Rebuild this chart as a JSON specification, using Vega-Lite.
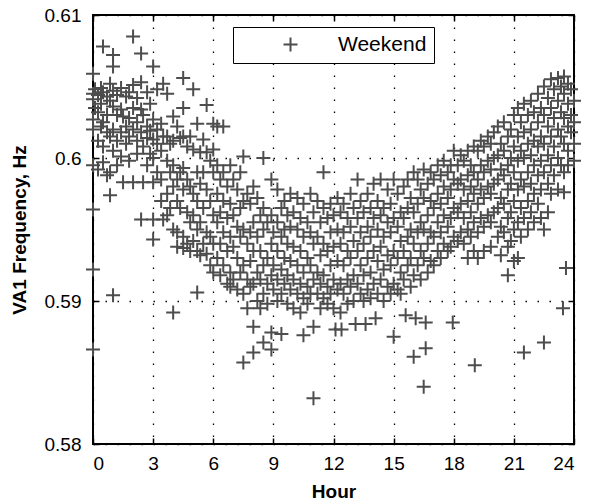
{
"$schema":"https://vega.github.io/schema/vega-lite/v6.json",
"autosize":{"type":"none"},
"padding":{"left":93,"top":15,"right":15,"bottom":60},
"width":481,"height":429,
"config":{"view":{"stroke":"black","strokeWidth":2},"font":"Liberation Sans",
"axis":{"domain":false,"grid":true,"gridColor":"black","gridDash":[1.5,10.5],"gridWidth":1.3,"gridOpacity":1,"tickColor":"black","tickSize":-6,"tickWidth":1.5,"labelFont":"Liberation Sans","labelFontSize":19,"labelColor":"black","titleFont":"Liberation Sans","titleFontSize":19,"titleFontWeight":"bold","titleColor":"black"}},
"data":{"values":[
{"Hour":0,"Freq":0.6059},{"Hour":0,"Freq":0.6045},{"Hour":0,"Freq":0.6041},{"Hour":0,"Freq":0.6027},{"Hour":0,"Freq":0.602},{"Hour":0,"Freq":0.5995},{"Hour":0,"Freq":0.5964},{"Hour":0,"Freq":0.5922},{"Hour":0,"Freq":0.5866},
{"Hour":0.1,"Freq":0.6048},{"Hour":0.1,"Freq":0.6035},
{"Hour":0.25,"Freq":0.6044},{"Hour":0.25,"Freq":0.6032},{"Hour":0.25,"Freq":0.6012},{"Hour":0.25,"Freq":0.5992},
{"Hour":0.4,"Freq":0.6049},{"Hour":0.4,"Freq":0.6038},{"Hour":0.4,"Freq":0.6022},
{"Hour":0.5,"Freq":0.6078},{"Hour":0.5,"Freq":0.6046},{"Hour":0.5,"Freq":0.6025},{"Hour":0.5,"Freq":0.6008},{"Hour":0.5,"Freq":0.5997},
{"Hour":0.7,"Freq":0.6043},{"Hour":0.7,"Freq":0.603},{"Hour":0.7,"Freq":0.6018},{"Hour":0.7,"Freq":0.5988},
{"Hour":0.85,"Freq":0.6052},{"Hour":0.85,"Freq":0.604},{"Hour":0.85,"Freq":0.6015},{"Hour":0.85,"Freq":0.599},{"Hour":0.85,"Freq":0.5974},
{"Hour":1,"Freq":0.6072},{"Hour":1,"Freq":0.6064},{"Hour":1,"Freq":0.6047},{"Hour":1,"Freq":0.6036},{"Hour":1,"Freq":0.602},{"Hour":1,"Freq":0.6005},{"Hour":1,"Freq":0.5904},
{"Hour":1.2,"Freq":0.6044},{"Hour":1.2,"Freq":0.603},{"Hour":1.2,"Freq":0.6012},{"Hour":1.2,"Freq":0.5995},
{"Hour":1.4,"Freq":0.6049},{"Hour":1.4,"Freq":0.6034},{"Hour":1.4,"Freq":0.6018},{"Hour":1.4,"Freq":0.6001},
{"Hour":1.5,"Freq":0.6029},{"Hour":1.5,"Freq":0.5983},
{"Hour":1.65,"Freq":0.6043},{"Hour":1.65,"Freq":0.6022},{"Hour":1.65,"Freq":0.601},
{"Hour":1.8,"Freq":0.6046},{"Hour":1.8,"Freq":0.6028},{"Hour":1.8,"Freq":0.6015},{"Hour":1.8,"Freq":0.5998},
{"Hour":2,"Freq":0.6085},{"Hour":2,"Freq":0.6051},{"Hour":2,"Freq":0.6035},{"Hour":2,"Freq":0.602},{"Hour":2,"Freq":0.5983},
{"Hour":2.2,"Freq":0.6042},{"Hour":2.2,"Freq":0.6025},{"Hour":2.2,"Freq":0.6012},{"Hour":2.2,"Freq":0.6003},
{"Hour":2.4,"Freq":0.6073},{"Hour":2.4,"Freq":0.6053},{"Hour":2.4,"Freq":0.6034},{"Hour":2.4,"Freq":0.6018},{"Hour":2.4,"Freq":0.5957},
{"Hour":2.5,"Freq":0.603},{"Hour":2.5,"Freq":0.6008},{"Hour":2.5,"Freq":0.5983},
{"Hour":2.7,"Freq":0.6046},{"Hour":2.7,"Freq":0.6022},{"Hour":2.7,"Freq":0.6014},{"Hour":2.7,"Freq":0.5995},
{"Hour":2.85,"Freq":0.6038},{"Hour":2.85,"Freq":0.6019},{"Hour":2.85,"Freq":0.6003},
{"Hour":3,"Freq":0.6064},{"Hour":3,"Freq":0.6027},{"Hour":3,"Freq":0.6013},{"Hour":3,"Freq":0.6},{"Hour":3,"Freq":0.5983},{"Hour":3,"Freq":0.5957},{"Hour":3,"Freq":0.5943},
{"Hour":3.2,"Freq":0.6048},{"Hour":3.2,"Freq":0.602},{"Hour":3.2,"Freq":0.601},{"Hour":3.2,"Freq":0.599},
{"Hour":3.4,"Freq":0.6024},{"Hour":3.4,"Freq":0.6005},{"Hour":3.4,"Freq":0.5985},{"Hour":3.4,"Freq":0.597},
{"Hour":3.5,"Freq":0.6052},{"Hour":3.5,"Freq":0.6015},{"Hour":3.5,"Freq":0.5957},
{"Hour":3.7,"Freq":0.6045},{"Hour":3.7,"Freq":0.6015},{"Hour":3.7,"Freq":0.5998},{"Hour":3.7,"Freq":0.5975},{"Hour":3.7,"Freq":0.596},
{"Hour":3.85,"Freq":0.601},{"Hour":3.85,"Freq":0.599},{"Hour":3.85,"Freq":0.5965},
{"Hour":4,"Freq":0.6029},{"Hour":4,"Freq":0.6012},{"Hour":4,"Freq":0.5995},{"Hour":4,"Freq":0.598},{"Hour":4,"Freq":0.595},{"Hour":4,"Freq":0.5892},
{"Hour":4.2,"Freq":0.6022},{"Hour":4.2,"Freq":0.5985},{"Hour":4.2,"Freq":0.597},{"Hour":4.2,"Freq":0.5948},{"Hour":4.2,"Freq":0.5938},
{"Hour":4.35,"Freq":0.6014},{"Hour":4.35,"Freq":0.599},{"Hour":4.35,"Freq":0.5965},
{"Hour":4.5,"Freq":0.6056},{"Hour":4.5,"Freq":0.6035},{"Hour":4.5,"Freq":0.6015},{"Hour":4.5,"Freq":0.5993},{"Hour":4.5,"Freq":0.5978},{"Hour":4.5,"Freq":0.5945},{"Hour":4.5,"Freq":0.5937},
{"Hour":4.7,"Freq":0.6008},{"Hour":4.7,"Freq":0.5985},{"Hour":4.7,"Freq":0.5962},{"Hour":4.7,"Freq":0.594},
{"Hour":4.85,"Freq":0.6015},{"Hour":4.85,"Freq":0.598},{"Hour":4.85,"Freq":0.5955},{"Hour":4.85,"Freq":0.5935},
{"Hour":5,"Freq":0.6048},{"Hour":5,"Freq":0.6006},{"Hour":5,"Freq":0.5975},{"Hour":5,"Freq":0.596},{"Hour":5,"Freq":0.5942},
{"Hour":5.2,"Freq":0.6024},{"Hour":5.2,"Freq":0.599},{"Hour":5.2,"Freq":0.597},{"Hour":5.2,"Freq":0.595},{"Hour":5.2,"Freq":0.5935},{"Hour":5.2,"Freq":0.5906},
{"Hour":5.35,"Freq":0.6004},{"Hour":5.35,"Freq":0.5982},{"Hour":5.35,"Freq":0.5955},{"Hour":5.35,"Freq":0.5932},
{"Hour":5.5,"Freq":0.6013},{"Hour":5.5,"Freq":0.599},{"Hour":5.5,"Freq":0.5965},{"Hour":5.5,"Freq":0.594},
{"Hour":5.67,"Freq":0.6037},{"Hour":5.67,"Freq":0.6004},{"Hour":5.67,"Freq":0.5978},{"Hour":5.67,"Freq":0.5948},{"Hour":5.67,"Freq":0.5933},
{"Hour":5.85,"Freq":0.5998},{"Hour":5.85,"Freq":0.597},{"Hour":5.85,"Freq":0.5945},{"Hour":5.85,"Freq":0.5925},
{"Hour":6,"Freq":0.6024},{"Hour":6,"Freq":0.6006},{"Hour":6,"Freq":0.599},{"Hour":6,"Freq":0.596},{"Hour":6,"Freq":0.594},{"Hour":6,"Freq":0.592},
{"Hour":6.2,"Freq":0.6022},{"Hour":6.2,"Freq":0.5995},{"Hour":6.2,"Freq":0.5975},{"Hour":6.2,"Freq":0.5955},{"Hour":6.2,"Freq":0.593},
{"Hour":6.35,"Freq":0.5985},{"Hour":6.35,"Freq":0.5962},{"Hour":6.35,"Freq":0.594},{"Hour":6.35,"Freq":0.5918},
{"Hour":6.5,"Freq":0.6022},{"Hour":6.5,"Freq":0.599},{"Hour":6.5,"Freq":0.597},{"Hour":6.5,"Freq":0.5948},{"Hour":6.5,"Freq":0.5925},
{"Hour":6.7,"Freq":0.598},{"Hour":6.7,"Freq":0.5958},{"Hour":6.7,"Freq":0.5935},{"Hour":6.7,"Freq":0.5912},
{"Hour":6.85,"Freq":0.5995},{"Hour":6.85,"Freq":0.5968},{"Hour":6.85,"Freq":0.5945},{"Hour":6.85,"Freq":0.592},{"Hour":6.85,"Freq":0.591},
{"Hour":7,"Freq":0.5985},{"Hour":7,"Freq":0.596},{"Hour":7,"Freq":0.5938},{"Hour":7,"Freq":0.5915},
{"Hour":7.2,"Freq":0.5978},{"Hour":7.2,"Freq":0.5952},{"Hour":7.2,"Freq":0.593},{"Hour":7.2,"Freq":0.5908},
{"Hour":7.35,"Freq":0.599},{"Hour":7.35,"Freq":0.5965},{"Hour":7.35,"Freq":0.5945},{"Hour":7.35,"Freq":0.592},
{"Hour":7.5,"Freq":0.6001},{"Hour":7.5,"Freq":0.597},{"Hour":7.5,"Freq":0.595},{"Hour":7.5,"Freq":0.5925},{"Hour":7.5,"Freq":0.5905},{"Hour":7.5,"Freq":0.5857},
{"Hour":7.7,"Freq":0.5975},{"Hour":7.7,"Freq":0.594},{"Hour":7.7,"Freq":0.5915},{"Hour":7.7,"Freq":0.5895},
{"Hour":7.85,"Freq":0.5968},{"Hour":7.85,"Freq":0.5948},{"Hour":7.85,"Freq":0.5928},{"Hour":7.85,"Freq":0.591},
{"Hour":8,"Freq":0.598},{"Hour":8,"Freq":0.5955},{"Hour":8,"Freq":0.5935},{"Hour":8,"Freq":0.5912},{"Hour":8,"Freq":0.5882},{"Hour":8,"Freq":0.5864},
{"Hour":8.2,"Freq":0.5972},{"Hour":8.2,"Freq":0.5945},{"Hour":8.2,"Freq":0.592},{"Hour":8.2,"Freq":0.59},
{"Hour":8.35,"Freq":0.596},{"Hour":8.35,"Freq":0.5935},{"Hour":8.35,"Freq":0.5915},{"Hour":8.35,"Freq":0.5895},
{"Hour":8.5,"Freq":0.6},{"Hour":8.5,"Freq":0.5965},{"Hour":8.5,"Freq":0.595},{"Hour":8.5,"Freq":0.5925},{"Hour":8.5,"Freq":0.5905},{"Hour":8.5,"Freq":0.5871},
{"Hour":8.7,"Freq":0.5955},{"Hour":8.7,"Freq":0.593},{"Hour":8.7,"Freq":0.5912},{"Hour":8.7,"Freq":0.5898},
{"Hour":8.9,"Freq":0.5985},{"Hour":8.9,"Freq":0.596},{"Hour":8.9,"Freq":0.594},{"Hour":8.9,"Freq":0.5918},{"Hour":8.9,"Freq":0.5878},{"Hour":8.9,"Freq":0.5866},
{"Hour":9,"Freq":0.5948},{"Hour":9,"Freq":0.5925},{"Hour":9,"Freq":0.5908},
{"Hour":9.2,"Freq":0.5978},{"Hour":9.2,"Freq":0.5955},{"Hour":9.2,"Freq":0.5935},{"Hour":9.2,"Freq":0.5915},{"Hour":9.2,"Freq":0.59},
{"Hour":9.4,"Freq":0.5965},{"Hour":9.4,"Freq":0.5945},{"Hour":9.4,"Freq":0.5922},{"Hour":9.4,"Freq":0.5905},{"Hour":9.4,"Freq":0.5877},
{"Hour":9.55,"Freq":0.597},{"Hour":9.55,"Freq":0.595},{"Hour":9.55,"Freq":0.593},{"Hour":9.55,"Freq":0.5912},
{"Hour":9.7,"Freq":0.596},{"Hour":9.7,"Freq":0.594},{"Hour":9.7,"Freq":0.5918},{"Hour":9.7,"Freq":0.5898},
{"Hour":9.85,"Freq":0.5975},{"Hour":9.85,"Freq":0.5952},{"Hour":9.85,"Freq":0.5928},{"Hour":9.85,"Freq":0.5908},
{"Hour":10,"Freq":0.5962},{"Hour":10,"Freq":0.5938},{"Hour":10,"Freq":0.5915},{"Hour":10,"Freq":0.5895},
{"Hour":10.2,"Freq":0.5972},{"Hour":10.2,"Freq":0.595},{"Hour":10.2,"Freq":0.5925},{"Hour":10.2,"Freq":0.5905},
{"Hour":10.35,"Freq":0.5958},{"Hour":10.35,"Freq":0.5935},{"Hour":10.35,"Freq":0.5912},{"Hour":10.35,"Freq":0.5892},
{"Hour":10.5,"Freq":0.5968},{"Hour":10.5,"Freq":0.5945},{"Hour":10.5,"Freq":0.592},{"Hour":10.5,"Freq":0.5902},{"Hour":10.5,"Freq":0.5876},
{"Hour":10.7,"Freq":0.5955},{"Hour":10.7,"Freq":0.593},{"Hour":10.7,"Freq":0.591},{"Hour":10.7,"Freq":0.5898},
{"Hour":10.85,"Freq":0.5975},{"Hour":10.85,"Freq":0.5948},{"Hour":10.85,"Freq":0.5925},{"Hour":10.85,"Freq":0.5905},
{"Hour":11,"Freq":0.5962},{"Hour":11,"Freq":0.594},{"Hour":11,"Freq":0.5915},{"Hour":11,"Freq":0.5882},{"Hour":11,"Freq":0.5832},
{"Hour":11.2,"Freq":0.597},{"Hour":11.2,"Freq":0.5945},{"Hour":11.2,"Freq":0.592},{"Hour":11.2,"Freq":0.5905},
{"Hour":11.35,"Freq":0.5955},{"Hour":11.35,"Freq":0.5932},{"Hour":11.35,"Freq":0.5912},{"Hour":11.35,"Freq":0.5895},
{"Hour":11.5,"Freq":0.599},{"Hour":11.5,"Freq":0.5965},{"Hour":11.5,"Freq":0.594},{"Hour":11.5,"Freq":0.5918},{"Hour":11.5,"Freq":0.5902},
{"Hour":11.7,"Freq":0.5958},{"Hour":11.7,"Freq":0.5935},{"Hour":11.7,"Freq":0.591},{"Hour":11.7,"Freq":0.5898},
{"Hour":11.85,"Freq":0.5968},{"Hour":11.85,"Freq":0.5948},{"Hour":11.85,"Freq":0.5925},{"Hour":11.85,"Freq":0.5905},
{"Hour":12,"Freq":0.596},{"Hour":12,"Freq":0.5938},{"Hour":12,"Freq":0.5915},{"Hour":12,"Freq":0.5895},
{"Hour":12.1,"Freq":0.588},
{"Hour":12.2,"Freq":0.5972},{"Hour":12.2,"Freq":0.595},{"Hour":12.2,"Freq":0.5928},{"Hour":12.2,"Freq":0.5908},
{"Hour":12.35,"Freq":0.5962},{"Hour":12.35,"Freq":0.594},{"Hour":12.35,"Freq":0.5912},{"Hour":12.35,"Freq":0.5892},
{"Hour":12.4,"Freq":0.588},
{"Hour":12.5,"Freq":0.5968},{"Hour":12.5,"Freq":0.5948},{"Hour":12.5,"Freq":0.5925},{"Hour":12.5,"Freq":0.5905},
{"Hour":12.7,"Freq":0.5958},{"Hour":12.7,"Freq":0.5935},{"Hour":12.7,"Freq":0.5915},{"Hour":12.7,"Freq":0.5898},
{"Hour":12.85,"Freq":0.5975},{"Hour":12.85,"Freq":0.5952},{"Hour":12.85,"Freq":0.593},{"Hour":12.85,"Freq":0.591},
{"Hour":13,"Freq":0.5965},{"Hour":13,"Freq":0.5942},{"Hour":13,"Freq":0.5918},{"Hour":13,"Freq":0.59},
{"Hour":13.1,"Freq":0.5884},
{"Hour":13.2,"Freq":0.5985},{"Hour":13.2,"Freq":0.5958},{"Hour":13.2,"Freq":0.5935},{"Hour":13.2,"Freq":0.5912},
{"Hour":13.35,"Freq":0.597},{"Hour":13.35,"Freq":0.5948},{"Hour":13.35,"Freq":0.5925},{"Hour":13.35,"Freq":0.5905},
{"Hour":13.5,"Freq":0.5962},{"Hour":13.5,"Freq":0.594},{"Hour":13.5,"Freq":0.5918},{"Hour":13.5,"Freq":0.59},
{"Hour":13.6,"Freq":0.5884},
{"Hour":13.7,"Freq":0.5975},{"Hour":13.7,"Freq":0.5952},{"Hour":13.7,"Freq":0.593},{"Hour":13.7,"Freq":0.5908},
{"Hour":13.85,"Freq":0.5965},{"Hour":13.85,"Freq":0.5945},{"Hour":13.85,"Freq":0.592},{"Hour":13.85,"Freq":0.5902},
{"Hour":14,"Freq":0.5982},{"Hour":14,"Freq":0.5958},{"Hour":14,"Freq":0.5935},{"Hour":14,"Freq":0.5912},
{"Hour":14.1,"Freq":0.5888},
{"Hour":14.2,"Freq":0.597},{"Hour":14.2,"Freq":0.595},{"Hour":14.2,"Freq":0.5928},{"Hour":14.2,"Freq":0.5905},
{"Hour":14.35,"Freq":0.5985},{"Hour":14.35,"Freq":0.596},{"Hour":14.35,"Freq":0.5938},{"Hour":14.35,"Freq":0.5915},
{"Hour":14.5,"Freq":0.5965},{"Hour":14.5,"Freq":0.5945},{"Hour":14.5,"Freq":0.5922},{"Hour":14.5,"Freq":0.59},
{"Hour":14.7,"Freq":0.5978},{"Hour":14.7,"Freq":0.5955},{"Hour":14.7,"Freq":0.5932},{"Hour":14.7,"Freq":0.591},
{"Hour":14.85,"Freq":0.5968},{"Hour":14.85,"Freq":0.5948},{"Hour":14.85,"Freq":0.5925},{"Hour":14.85,"Freq":0.5905},
{"Hour":15,"Freq":0.5985},{"Hour":15,"Freq":0.5958},{"Hour":15,"Freq":0.5935},{"Hour":15,"Freq":0.5912},{"Hour":15,"Freq":0.5875},
{"Hour":15.2,"Freq":0.5975},{"Hour":15.2,"Freq":0.5952},{"Hour":15.2,"Freq":0.593},{"Hour":15.2,"Freq":0.5908},
{"Hour":15.35,"Freq":0.5962},{"Hour":15.35,"Freq":0.5942},{"Hour":15.35,"Freq":0.592},{"Hour":15.35,"Freq":0.5905},
{"Hour":15.5,"Freq":0.598},{"Hour":15.5,"Freq":0.5958},{"Hour":15.5,"Freq":0.5935},{"Hour":15.5,"Freq":0.5915},
{"Hour":15.6,"Freq":0.589},
{"Hour":15.7,"Freq":0.5985},{"Hour":15.7,"Freq":0.5965},{"Hour":15.7,"Freq":0.5945},{"Hour":15.7,"Freq":0.5925},
{"Hour":15.85,"Freq":0.5972},{"Hour":15.85,"Freq":0.595},{"Hour":15.85,"Freq":0.593},{"Hour":15.85,"Freq":0.591},
{"Hour":16,"Freq":0.599},{"Hour":16,"Freq":0.5962},{"Hour":16,"Freq":0.594},{"Hour":16,"Freq":0.5918},{"Hour":16,"Freq":0.5861},
{"Hour":16.1,"Freq":0.5888},
{"Hour":16.2,"Freq":0.5985},{"Hour":16.2,"Freq":0.5968},{"Hour":16.2,"Freq":0.5948},{"Hour":16.2,"Freq":0.5925},
{"Hour":16.35,"Freq":0.5978},{"Hour":16.35,"Freq":0.5955},{"Hour":16.35,"Freq":0.5935},{"Hour":16.35,"Freq":0.5915},
{"Hour":16.5,"Freq":0.5992},{"Hour":16.5,"Freq":0.5972},{"Hour":16.5,"Freq":0.595},{"Hour":16.5,"Freq":0.593},{"Hour":16.5,"Freq":0.584},
{"Hour":16.6,"Freq":0.5885},{"Hour":16.6,"Freq":0.5867},
{"Hour":16.7,"Freq":0.5982},{"Hour":16.7,"Freq":0.596},{"Hour":16.7,"Freq":0.594},{"Hour":16.7,"Freq":0.592},
{"Hour":16.85,"Freq":0.599},{"Hour":16.85,"Freq":0.597},{"Hour":16.85,"Freq":0.5948},{"Hour":16.85,"Freq":0.5928},
{"Hour":17,"Freq":0.5985},{"Hour":17,"Freq":0.5965},{"Hour":17,"Freq":0.5945},{"Hour":17,"Freq":0.5925},
{"Hour":17.2,"Freq":0.5995},{"Hour":17.2,"Freq":0.5975},{"Hour":17.2,"Freq":0.5955},{"Hour":17.2,"Freq":0.5935},
{"Hour":17.35,"Freq":0.5988},{"Hour":17.35,"Freq":0.5968},{"Hour":17.35,"Freq":0.5948},{"Hour":17.35,"Freq":0.593},
{"Hour":17.5,"Freq":0.5998},{"Hour":17.5,"Freq":0.598},{"Hour":17.5,"Freq":0.596},{"Hour":17.5,"Freq":0.594},
{"Hour":17.7,"Freq":0.599},{"Hour":17.7,"Freq":0.5972},{"Hour":17.7,"Freq":0.5952},{"Hour":17.7,"Freq":0.5935},
{"Hour":17.85,"Freq":0.5995},{"Hour":17.85,"Freq":0.5978},{"Hour":17.85,"Freq":0.5958},{"Hour":17.85,"Freq":0.5938},
{"Hour":17.95,"Freq":0.5885},
{"Hour":18,"Freq":0.6005},{"Hour":18,"Freq":0.5985},{"Hour":18,"Freq":0.5965},{"Hour":18,"Freq":0.5945},
{"Hour":18.2,"Freq":0.5995},{"Hour":18.2,"Freq":0.5982},{"Hour":18.2,"Freq":0.5962},{"Hour":18.2,"Freq":0.5942},
{"Hour":18.35,"Freq":0.6002},{"Hour":18.35,"Freq":0.5985},{"Hour":18.35,"Freq":0.5968},{"Hour":18.35,"Freq":0.5948},
{"Hour":18.5,"Freq":0.5998},{"Hour":18.5,"Freq":0.5978},{"Hour":18.5,"Freq":0.5958},{"Hour":18.5,"Freq":0.594},
{"Hour":18.7,"Freq":0.6005},{"Hour":18.7,"Freq":0.5988},{"Hour":18.7,"Freq":0.597},{"Hour":18.7,"Freq":0.595},{"Hour":18.7,"Freq":0.593},
{"Hour":18.85,"Freq":0.5995},{"Hour":18.85,"Freq":0.598},{"Hour":18.85,"Freq":0.5962},{"Hour":18.85,"Freq":0.5945},
{"Hour":19,"Freq":0.6008},{"Hour":19,"Freq":0.599},{"Hour":19,"Freq":0.5975},{"Hour":19,"Freq":0.5955},{"Hour":19,"Freq":0.5935},
{"Hour":19.05,"Freq":0.5855},
{"Hour":19.2,"Freq":0.6005},{"Hour":19.2,"Freq":0.5985},{"Hour":19.2,"Freq":0.5968},{"Hour":19.2,"Freq":0.5948},{"Hour":19.2,"Freq":0.593},
{"Hour":19.35,"Freq":0.6012},{"Hour":19.35,"Freq":0.5995},{"Hour":19.35,"Freq":0.5978},{"Hour":19.35,"Freq":0.5958},
{"Hour":19.5,"Freq":0.6008},{"Hour":19.5,"Freq":0.599},{"Hour":19.5,"Freq":0.5972},{"Hour":19.5,"Freq":0.5952},{"Hour":19.5,"Freq":0.5935},
{"Hour":19.7,"Freq":0.6015},{"Hour":19.7,"Freq":0.5998},{"Hour":19.7,"Freq":0.598},{"Hour":19.7,"Freq":0.596},
{"Hour":19.85,"Freq":0.601},{"Hour":19.85,"Freq":0.5992},{"Hour":19.85,"Freq":0.5975},{"Hour":19.85,"Freq":0.5955},{"Hour":19.85,"Freq":0.5938},
{"Hour":20,"Freq":0.6018},{"Hour":20,"Freq":0.6},{"Hour":20,"Freq":0.5982},{"Hour":20,"Freq":0.5962},
{"Hour":20.2,"Freq":0.6022},{"Hour":20.2,"Freq":0.6002},{"Hour":20.2,"Freq":0.5985},{"Hour":20.2,"Freq":0.5965},{"Hour":20.2,"Freq":0.5945},
{"Hour":20.35,"Freq":0.601},{"Hour":20.35,"Freq":0.5992},{"Hour":20.35,"Freq":0.5972},{"Hour":20.35,"Freq":0.5952},{"Hour":20.35,"Freq":0.5932},
{"Hour":20.5,"Freq":0.6025},{"Hour":20.5,"Freq":0.6005},{"Hour":20.5,"Freq":0.5988},{"Hour":20.5,"Freq":0.5968},{"Hour":20.5,"Freq":0.5948},
{"Hour":20.7,"Freq":0.6015},{"Hour":20.7,"Freq":0.5995},{"Hour":20.7,"Freq":0.5978},{"Hour":20.7,"Freq":0.5958},{"Hour":20.7,"Freq":0.5938},{"Hour":20.7,"Freq":0.5918},
{"Hour":20.85,"Freq":0.602},{"Hour":20.85,"Freq":0.6},{"Hour":20.85,"Freq":0.5982},{"Hour":20.85,"Freq":0.5962},{"Hour":20.85,"Freq":0.5942},
{"Hour":21,"Freq":0.603},{"Hour":21,"Freq":0.6008},{"Hour":21,"Freq":0.599},{"Hour":21,"Freq":0.597},{"Hour":21,"Freq":0.595},{"Hour":21,"Freq":0.5928},
{"Hour":21.2,"Freq":0.6035},{"Hour":21.2,"Freq":0.6015},{"Hour":21.2,"Freq":0.5998},{"Hour":21.2,"Freq":0.5978},{"Hour":21.2,"Freq":0.5955},{"Hour":21.2,"Freq":0.593},
{"Hour":21.35,"Freq":0.6025},{"Hour":21.35,"Freq":0.6005},{"Hour":21.35,"Freq":0.5985},{"Hour":21.35,"Freq":0.5965},{"Hour":21.35,"Freq":0.5945},
{"Hour":21.5,"Freq":0.6038},{"Hour":21.5,"Freq":0.6018},{"Hour":21.5,"Freq":0.6},{"Hour":21.5,"Freq":0.598},{"Hour":21.5,"Freq":0.5958},{"Hour":21.5,"Freq":0.5864},
{"Hour":21.7,"Freq":0.603},{"Hour":21.7,"Freq":0.601},{"Hour":21.7,"Freq":0.599},{"Hour":21.7,"Freq":0.597},{"Hour":21.7,"Freq":0.595},
{"Hour":21.85,"Freq":0.604},{"Hour":21.85,"Freq":0.602},{"Hour":21.85,"Freq":0.6002},{"Hour":21.85,"Freq":0.5982},{"Hour":21.85,"Freq":0.5962},
{"Hour":22,"Freq":0.6032},{"Hour":22,"Freq":0.6012},{"Hour":22,"Freq":0.5995},{"Hour":22,"Freq":0.5975},{"Hour":22,"Freq":0.5955},
{"Hour":22.2,"Freq":0.6045},{"Hour":22.2,"Freq":0.6025},{"Hour":22.2,"Freq":0.6008},{"Hour":22.2,"Freq":0.5988},{"Hour":22.2,"Freq":0.5968},
{"Hour":22.35,"Freq":0.6035},{"Hour":22.35,"Freq":0.6015},{"Hour":22.35,"Freq":0.5998},{"Hour":22.35,"Freq":0.5978},{"Hour":22.35,"Freq":0.5958},
{"Hour":22.5,"Freq":0.605},{"Hour":22.5,"Freq":0.603},{"Hour":22.5,"Freq":0.601},{"Hour":22.5,"Freq":0.599},{"Hour":22.5,"Freq":0.595},{"Hour":22.5,"Freq":0.5871},
{"Hour":22.7,"Freq":0.6042},{"Hour":22.7,"Freq":0.6022},{"Hour":22.7,"Freq":0.6002},{"Hour":22.7,"Freq":0.5982},{"Hour":22.7,"Freq":0.5962},
{"Hour":22.85,"Freq":0.6055},{"Hour":22.85,"Freq":0.6035},{"Hour":22.85,"Freq":0.6015},{"Hour":22.85,"Freq":0.5995},{"Hour":22.85,"Freq":0.5975},
{"Hour":23,"Freq":0.6048},{"Hour":23,"Freq":0.6028},{"Hour":23,"Freq":0.6008},{"Hour":23,"Freq":0.5988},
{"Hour":23.2,"Freq":0.6056},{"Hour":23.2,"Freq":0.604},{"Hour":23.2,"Freq":0.602},{"Hour":23.2,"Freq":0.6},{"Hour":23.2,"Freq":0.5978},
{"Hour":23.35,"Freq":0.605},{"Hour":23.35,"Freq":0.6032},{"Hour":23.35,"Freq":0.6015},{"Hour":23.35,"Freq":0.5995},
{"Hour":23.45,"Freq":0.5895},
{"Hour":23.5,"Freq":0.6057},{"Hour":23.5,"Freq":0.6045},{"Hour":23.5,"Freq":0.6028},{"Hour":23.5,"Freq":0.601},{"Hour":23.5,"Freq":0.599},{"Hour":23.5,"Freq":0.5976},
{"Hour":23.6,"Freq":0.5923},
{"Hour":23.7,"Freq":0.6052},{"Hour":23.7,"Freq":0.6038},{"Hour":23.7,"Freq":0.6022},{"Hour":23.7,"Freq":0.6005},{"Hour":23.7,"Freq":0.5995},
{"Hour":23.85,"Freq":0.6048},{"Hour":23.85,"Freq":0.603},{"Hour":23.85,"Freq":0.6018},
{"Hour":24,"Freq":0.604},{"Hour":24,"Freq":0.6025},{"Hour":24,"Freq":0.601},{"Hour":24,"Freq":0.5998}
]},
"layer":[
{"mark":{"type":"point","shape":"M-1,0L1,0M0,-1L0,1","filled":false,"size":196,"strokeWidth":2,"opacity":1},
 "encoding":{
  "x":{"field":"Hour","type":"quantitative","scale":{"domain":[0,24],"nice":false},"axis":{"orient":"bottom","values":[0,3,6,9,12,15,18,21,24],"title":"Hour","labelPadding":16,"titlePadding":9}},
  "y":{"field":"Freq","type":"quantitative","scale":{"domain":[0.58,0.61],"nice":false,"zero":false},"axis":{"orient":"left","values":[0.58,0.59,0.6,0.61],"format":".2~f","title":"VA1 Frequency, Hz","labelPadding":18,"titlePadding":15}},
  "color":{"datum":"Weekend","type":"nominal","scale":{"range":["#4d4d4d"]},"legend":{"orient":"none","legendX":140,"legendY":12,"title":null,"strokeColor":"black","fillColor":"white","padding":7,"symbolType":"M-1,0L1,0M0,-1L0,1","symbolSize":196,"symbolStrokeWidth":2,"symbolOffset":40,"labelOffset":37,"labelFontSize":21,"labelFont":"Liberation Sans","labelColor":"black","encode":{"legend":{"update":{"strokeWidth":{"value":2}}}}}}
 }},
{"mark":{"type":"point","opacity":0},
 "encoding":{
  "x":{"field":"Hour","type":"quantitative","axis":{"orient":"top","values":[0,3,6,9,12,15,18,21,24],"labels":false,"grid":false,"title":null}},
  "y":{"field":"Freq","type":"quantitative","axis":{"orient":"right","values":[0.58,0.59,0.6,0.61],"labels":false,"grid":false,"title":null}}
 }}
],
"resolve":{"axis":{"x":"independent","y":"independent"}}
}
